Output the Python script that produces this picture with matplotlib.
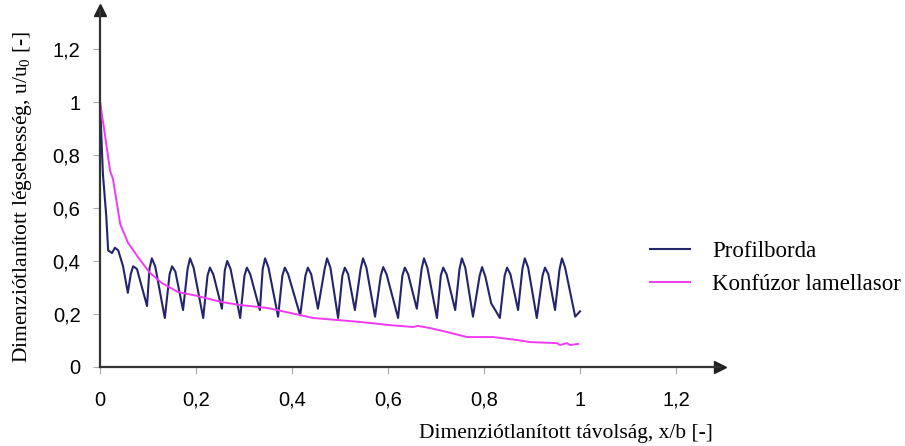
import matplotlib
matplotlib.use("Agg")
import matplotlib.pyplot as plt

# Profilborda (dark blue)
blue_x = [0, 0.006, 0.013, 0.017, 0.025, 0.031, 0.038, 0.048, 0.058,
          0.064, 0.069, 0.077, 0.098,
          0.103, 0.108, 0.115, 0.135,
          0.145, 0.150, 0.157, 0.173,
          0.1825, 0.1875, 0.195, 0.215,
          0.224, 0.229, 0.236, 0.254,
          0.260, 0.265, 0.272, 0.292,
          0.301, 0.306, 0.313, 0.333,
          0.339, 0.344, 0.351, 0.371,
          0.380, 0.385, 0.392, 0.417,
          0.428, 0.433, 0.440, 0.454,
          0.468, 0.473, 0.480, 0.496,
          0.505, 0.510, 0.517, 0.531,
          0.543, 0.548, 0.555, 0.573,
          0.585, 0.590, 0.597, 0.621,
          0.630, 0.635, 0.642, 0.660,
          0.670, 0.675, 0.682, 0.702,
          0.710, 0.715, 0.722, 0.740,
          0.749, 0.754, 0.761, 0.777,
          0.791, 0.796, 0.803, 0.815, 0.825, 0.833,
          0.843, 0.848, 0.855, 0.871,
          0.880, 0.885, 0.892, 0.910,
          0.922, 0.927, 0.934, 0.948,
          0.9575, 0.9625, 0.969, 0.990, 1.0]
blue_y = [1.0, 0.73, 0.57, 0.44, 0.43, 0.45, 0.44, 0.38, 0.28,
          0.35, 0.38, 0.37, 0.23,
          0.37, 0.41, 0.38, 0.185,
          0.35, 0.38, 0.36, 0.215,
          0.37, 0.41, 0.375, 0.185,
          0.345, 0.375, 0.35, 0.22,
          0.365, 0.40, 0.37, 0.185,
          0.345, 0.375, 0.35, 0.215,
          0.37, 0.41, 0.375, 0.19,
          0.345, 0.375, 0.35, 0.195,
          0.345, 0.375, 0.35, 0.22,
          0.37, 0.41, 0.375, 0.185,
          0.345, 0.375, 0.35, 0.215,
          0.37, 0.41, 0.375, 0.19,
          0.345, 0.377, 0.35, 0.185,
          0.345, 0.375, 0.35, 0.22,
          0.37, 0.41, 0.375, 0.185,
          0.345, 0.375, 0.35, 0.215,
          0.37, 0.41, 0.375, 0.19,
          0.345, 0.377, 0.34, 0.24, 0.21, 0.185,
          0.345, 0.375, 0.35, 0.215,
          0.37, 0.41, 0.375, 0.185,
          0.345, 0.375, 0.35, 0.215,
          0.37, 0.41, 0.375, 0.19, 0.21]

# Konfuzor lamellasor (magenta)
mag_x = [0, 0.010, 0.021, 0.027, 0.035, 0.042, 0.058, 0.079, 0.104, 0.129,
         0.1625, 0.198, 0.254, 0.292, 0.348, 0.417, 0.444, 0.496, 0.542, 0.604,
         0.652, 0.6625, 0.6875, 0.723, 0.765, 0.819, 0.869, 0.896, 0.952, 0.958,
         0.973, 0.979, 0.996]
mag_y = [1.0, 0.88, 0.74, 0.71, 0.62, 0.54, 0.47, 0.415, 0.355, 0.317,
         0.283, 0.27, 0.245, 0.234, 0.223, 0.196, 0.185, 0.177, 0.17, 0.158,
         0.151, 0.155, 0.147, 0.132, 0.113, 0.113, 0.102, 0.094, 0.09, 0.083,
         0.09, 0.083, 0.087]

ticks = [0, 0.2, 0.4, 0.6, 0.8, 1, 1.2]
tick_labels = ["0", "0,2", "0,4", "0,6", "0,8", "1", "1,2"]

plt.rcParams["mathtext.fontset"] = "custom"
plt.rcParams["mathtext.rm"] = "Liberation Serif"
plt.rcParams["mathtext.it"] = "Liberation Serif"

fig = plt.figure(figsize=(9.05, 4.46), dpi=100)
W, H = 905, 446
ax = fig.add_axes([100 / W, 1 - 367 / H, 620 / W, 357 / H])
ax.set_xlim(0, 620 / 480)
ax.set_ylim(0, 357 / 265)

ax.plot(blue_x, blue_y, color="#24246e", lw=1.5, label="Profilborda")
ax.plot(mag_x, mag_y, color="#f03cf0", lw=1.4, label="Konfúzor lamellasor")

for s in ["top", "right"]:
    ax.spines[s].set_visible(False)
for s in ["left", "bottom"]:
    ax.spines[s].set_color("#333333")
    ax.spines[s].set_linewidth(1.6)

# arrow heads
ax.plot(1, 0, ">", color="#222222", ms=9, transform=ax.transAxes, clip_on=False)
ax.plot(0, 1, "^", color="#222222", ms=9, transform=ax.transAxes, clip_on=False)

ax.set_xticks(ticks)
ax.set_xticklabels(tick_labels, fontfamily="Liberation Sans", fontsize=14.5)
ax.set_yticks(ticks)
ax.set_yticklabels(tick_labels, fontfamily="Liberation Sans", fontsize=14.5)
ax.tick_params(axis="both", color="#aaaaaa", length=5, direction="out")
ax.tick_params(axis="y", pad=9)
ax.tick_params(axis="x", pad=12)

fig.text(713 / W, 1 - 438 / H, "Dimenziótlanított távolság, x/b [-]",
         ha="right", va="baseline", fontfamily="Liberation Serif", fontsize=15.5)
fig.text(23 / W, 1 - 197 / H, "Dimenziótlanított légsebesség, u/u$_0$ [-]",
         rotation=90, ha="center", va="center",
         fontfamily="Liberation Serif", fontsize=15.5)

leg = ax.legend(loc="center left", bbox_to_anchor=(650 / W, 1 - 268 / H),
                bbox_transform=fig.transFigure, frameon=False, borderpad=0,
                borderaxespad=0, handlelength=1.75, handletextpad=0.95,
                labelspacing=0.55, prop={"family": "Liberation Serif", "size": 16.5})

fig.savefig("out.png", dpi=100)
